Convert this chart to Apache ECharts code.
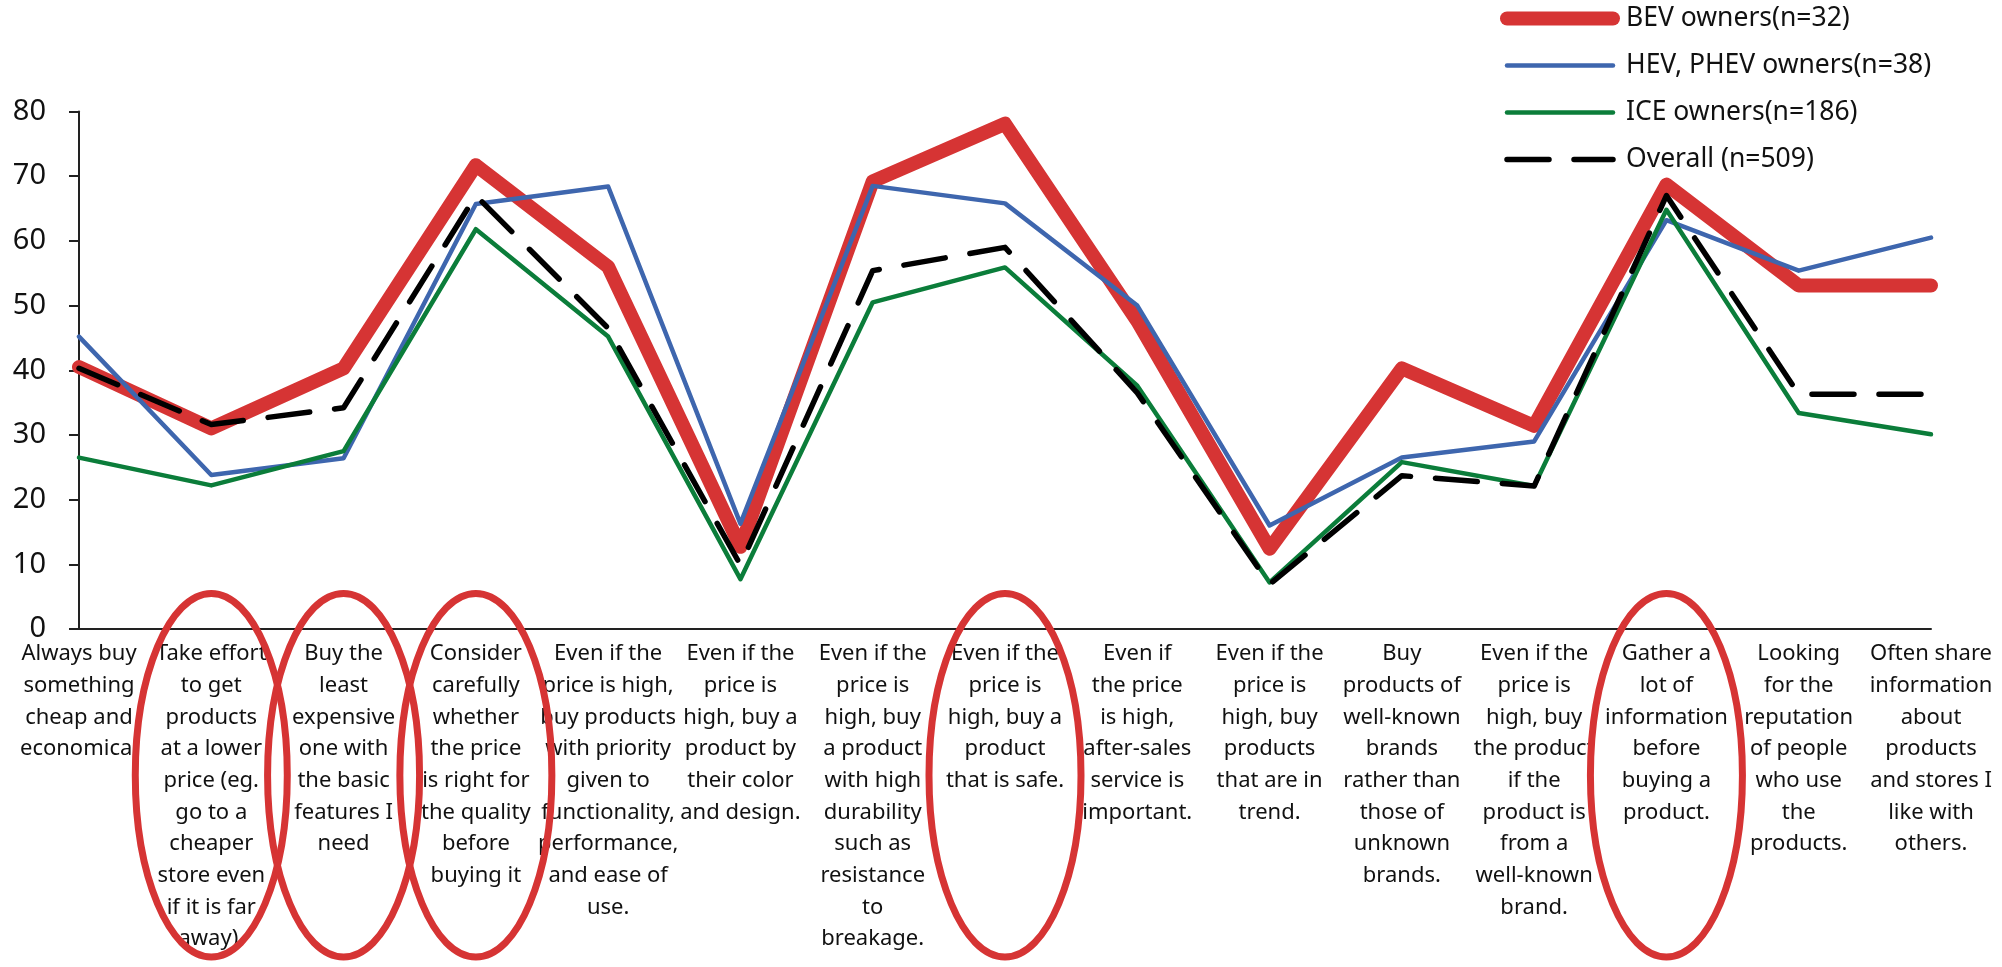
<!DOCTYPE html>
<html><head><meta charset="utf-8">
<script src="https://cdn.jsdelivr.net/npm/echarts@6/dist/echarts.min.js"></script>
<style>html,body{margin:0;padding:0;background:#fff}#c{width:2002px;height:967px}</style>
</head><body><div id="c"></div>
<script>
const categories = [
  "Always buy\nsomething\ncheap and\neconomical",
  "Take effort\nto get\nproducts\nat a lower\nprice (eg.\ngo to a\ncheaper\nstore even\nif it is far\naway).",
  "Buy the\nleast\nexpensive\none with\nthe basic\nfeatures I\nneed",
  "Consider\ncarefully\nwhether\nthe price\nis right for\nthe quality\nbefore\nbuying it",
  "Even if the\nprice is high,\nbuy products\nwith priority\ngiven to\nfunctionality,\nperformance,\nand ease of\nuse.",
  "Even if the\nprice is\nhigh, buy a\nproduct by\ntheir color\nand design.",
  "Even if the\nprice is\nhigh, buy\na product\nwith high\ndurability\nsuch as\nresistance\nto\nbreakage.",
  "Even if the\nprice is\nhigh, buy a\nproduct\nthat is safe.",
  "Even if\nthe price\nis high,\nafter-sales\nservice is\nimportant.",
  "Even if the\nprice is\nhigh, buy\nproducts\nthat are in\ntrend.",
  "Buy\nproducts of\nwell-known\nbrands\nrather than\nthose of\nunknown\nbrands.",
  "Even if the\nprice is\nhigh, buy\nthe product\nif the\nproduct is\nfrom a\nwell-known\nbrand.",
  "Gather a\nlot of\ninformation\nbefore\nbuying a\nproduct.",
  "Looking\nfor the\nreputation\nof people\nwho use\nthe\nproducts.",
  "Often share\ninformation\nabout\nproducts\nand stores I\nlike with\nothers."
];
const seriesNames = ["BEV owners(n=32)", "HEV, PHEV owners(n=38)", "ICE owners(n=186)", "Overall (n=509)"];
const bevOwners     = [40.5, 31.0, 40.3, 71.7, 56.0, 12.7, 69.2, 78.1, 47.6, 12.4, 40.3, 31.4, 68.7, 53.1, 53.1];
const hevPhevOwners = [45.2, 23.8, 26.4, 65.7, 68.4, 16.3, 68.5, 65.8, 50.0, 16.0, 26.5, 29.0, 63.2, 55.4, 60.5];
const iceOwners     = [26.5, 22.2, 27.5, 61.8, 45.2, 7.7, 50.5, 55.9, 37.6, 7.2, 25.8, 22.1, 64.8, 33.4, 30.1];
const overall       = [40.3, 31.6, 34.2, 67.0, 46.5, 9.9, 55.4, 59.0, 36.5, 6.9, 23.7, 22.1, 67.0, 36.3, 36.3];
const yMin = 0, yMax = 80, yStep = 10;
const highlightedCategories = [1, 2, 3, 7, 12];

const RED = '#D63434', BLUE = '#3E66AE', GREEN = '#0B7D3A', BLACK = '#000000';
const FONT = 'Noto Sans';

const chart = echarts.init(document.getElementById('c'));
const mkLine = (name, data, color, width, dash) => ({
  name, type: 'line', data, symbol: 'none', smooth: false,
  lineStyle: { color, width, type: dash || 'solid', cap: 'round', join: 'round' },
  itemStyle: { color },
  emphasis: { disabled: true },
  animation: false
});
chart.setOption({
  animation: false,
  textStyle: { fontFamily: FONT },
  grid: { left: 79, right: 71, top: 111.5, bottom: 338, containLabel: false },
  legend: {
    orient: 'vertical', left: 1495, top: 0,
    itemWidth: 106, itemHeight: 20, itemGap: 20,
    itemStyle: { opacity: 0 },
    lineStyle: { width: 'inherit', cap: 'round', type: 'inherit' },
    textStyle: { fontFamily: FONT, fontSize: 26.5, color: '#111', padding: [0, 0, 0, 8] },
    data: seriesNames
  },
  xAxis: {
    type: 'category', data: categories, boundaryGap: false,
    axisLine: { lineStyle: { color: '#222', width: 2 } },
    axisTick: { show: false },
    axisLabel: { interval: 0, margin: 9, fontFamily: FONT, fontSize: 22, lineHeight: 31.7, color: '#111', align: 'center', verticalAlign: 'top', hideOverlap: false },
    splitLine: { show: false }
  },
  yAxis: {
    type: 'value', min: yMin, max: yMax, interval: yStep,
    axisLine: { show: true, lineStyle: { color: '#222', width: 2 } },
    axisTick: { show: true, length: 10, lineStyle: { color: '#222', width: 2 } },
    axisLabel: { margin: 33, fontFamily: FONT, fontSize: 29, color: '#111' },
    splitLine: { show: false }
  },
  series: [
    mkLine(seriesNames[0], bevOwners, RED, 14),
    mkLine(seriesNames[1], hevPhevOwners, BLUE, 4.5),
    mkLine(seriesNames[2], iceOwners, GREEN, 4.5),
    mkLine(seriesNames[3], overall, BLACK, 5.5, [42, 25])
  ]
});

// Annotation ellipses positioned through the chart's own axes
const topPx = chart.convertToPixel({ yAxisIndex: 0 }, 5.5);
const bottomPx = 957;
const ry = (bottomPx - topPx) / 2;
const cy = topPx + ry;
chart.setOption({
  graphic: highlightedCategories.map(i => ({
    type: 'ellipse', z: 100, silent: true,
    shape: { cx: chart.convertToPixel({ xAxisIndex: 0 }, i), cy, rx: 76, ry },
    style: { fill: 'none', stroke: RED, lineWidth: 7 }
  }))
});
</script></body></html>
